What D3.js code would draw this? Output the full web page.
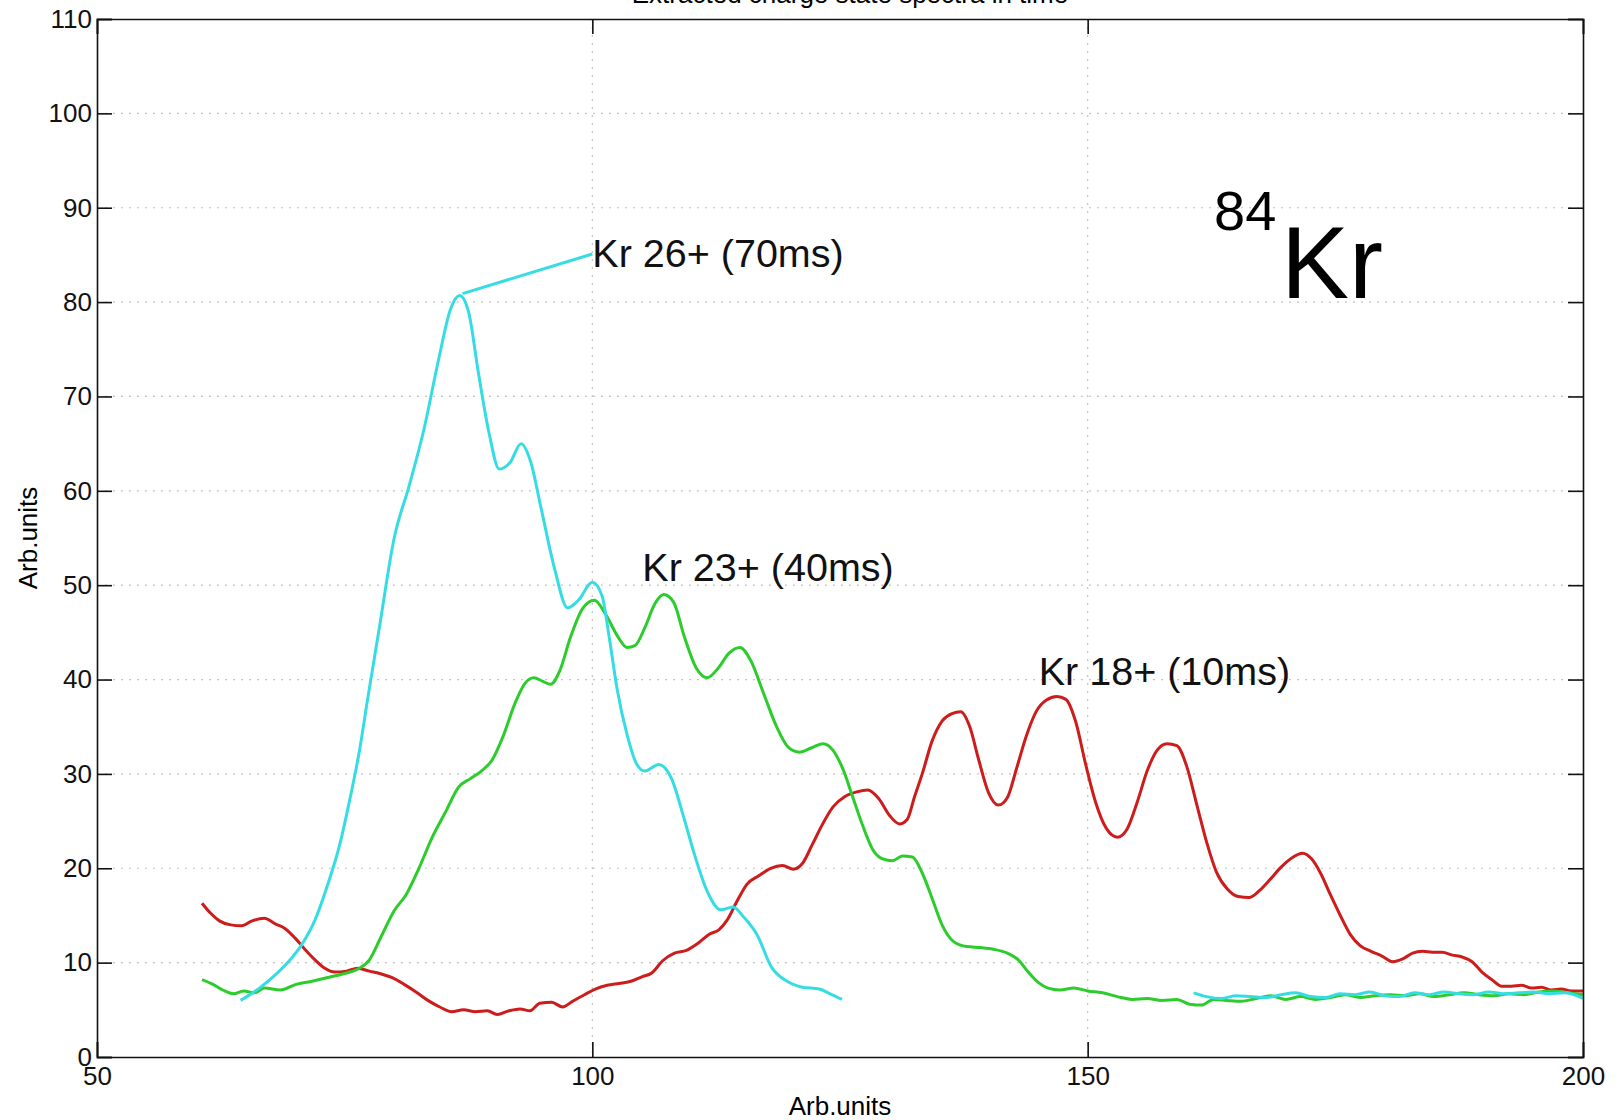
<!DOCTYPE html>
<html>
<head>
<meta charset="utf-8">
<script src="https://cdn.jsdelivr.net/npm/d3@7"></script>
<style>
  body { margin: 0; background: #fff; }
  svg { display: block; font-family: "Liberation Sans", Arial, Helvetica, sans-serif; }
</style>
</head>
<body>
<svg id="chart" width="1623" height="1120"></svg>
<script>

// ticks
let xTicks = [50, 100, 150, 200];
let yTicks = [0, 10, 20, 30, 40, 50, 60, 70, 80, 90, 100, 110];
let xGrid = [100, 150];
let yGrid = [10, 20, 30, 40, 50, 60, 70, 80, 90, 100];

// Kr 26+ (70ms) - cyan, main peak
let kr26 = [[64.5,6.0],[66.4,7.3],[68.0,8.7],[69.5,10.3],[70.6,11.8],[72.0,14.5],[73.3,18.3],[74.5,22.5],
  [75.5,27.2],[76.5,32.5],[77.3,37.8],[78.5,45.5],[80.0,55.0],[81.5,60.5],[83.0,66.5],[84.5,74.0],
  [85.7,79.3],[86.6,80.7],[87.5,79.0],[88.5,72.5],[89.6,66.0],[90.6,62.3],[91.7,63.0],[92.8,65.0],
  [93.8,63.0],[94.8,58.3],[96.2,51.7],[97.5,47.6],[98.6,48.4],[100.0,50.3],[101.0,48.8],[101.7,44.5],
  [102.5,39.0],[103.5,34.2],[104.5,31.0],[105.3,30.3],[106.7,31.0],[108.0,29.5],[109.2,25.5],
  [110.3,21.5],[111.5,17.8],[113.0,15.6],[114.2,15.9],[115.3,14.8],[116.6,13.0],[118.1,9.5],
  [119.7,8.0],[121.2,7.4],[122.9,7.2],[124.0,6.7],[125.2,6.1]];

// Kr 26+ tail (second cyan piece)
let kr26Tail = [[160.7,6.8],[162.0,6.4],[163.5,6.2],[165.0,6.5],[166.5,6.4],[168.0,6.3],[169.5,6.6],
  [171.0,6.8],[172.5,6.4],[174.0,6.3],[175.5,6.7],[177.0,6.6],[178.5,6.9],[180.0,6.5],[181.5,6.4],
  [183.0,6.8],[184.5,6.6],[186.0,6.9],[187.5,6.7],[189.0,6.6],[190.5,6.9],[192.0,6.7],[193.5,6.8],
  [195.0,6.9],[196.5,6.7],[198.2,6.8],[200.0,6.2]];

// Kr 23+ (40ms) - green
let kr23 = [[60.6,8.2],[61.7,7.7],[62.7,7.1],[63.8,6.7],[64.8,7.0],[65.9,6.8],[66.9,7.3],[68.5,7.1],
  [70.1,7.7],[71.6,8.0],[73.2,8.4],[74.8,8.8],[76.3,9.3],[77.5,10.3],[78.7,12.8],[80.0,15.5],
  [81.2,17.2],[82.5,20.0],[83.8,23.2],[85.2,26.0],[86.5,28.6],[87.7,29.5],[88.8,30.3],[89.9,31.5],
  [91.0,34.0],[92.2,37.5],[93.2,39.6],[94.1,40.2],[95.0,39.8],[95.8,39.5],[96.7,40.9],[97.8,44.5],
  [99.0,47.5],[100.2,48.4],[101.3,47.0],[102.6,44.5],[103.5,43.4],[104.3,43.6],[105.3,45.5],
  [106.3,48.0],[107.2,49.0],[108.2,48.2],[109.3,44.5],[110.5,41.2],[111.6,40.2],[112.7,41.2],
  [113.8,42.8],[114.9,43.4],[116.0,42.0],[117.3,38.5],[118.6,35.0],[119.8,32.8],[120.9,32.3],
  [122.2,32.8],[123.3,33.2],[124.3,32.5],[125.3,30.5],[126.3,27.5],[127.3,24.5],[128.3,22.0],
  [129.3,21.0],[130.3,20.8],[131.3,21.3],[132.3,21.2],[133.3,19.5],[134.3,16.8],[135.3,14.0],
  [136.5,12.2],[137.8,11.7],[139.2,11.6],[140.6,11.4],[141.9,11.0],[143.0,10.3],[144.0,9.0],
  [145.0,7.9],[146.0,7.3],[147.2,7.1],[148.6,7.3],[150.0,7.0],[151.5,6.8],[153.0,6.4],[154.5,6.1],
  [156.0,6.2],[157.5,6.0],[159.0,6.1],[160.3,5.6],[161.5,5.5],[162.7,6.1],[164.0,6.0],[165.5,5.9],
  [167.0,6.2],[168.5,6.5],[170.0,6.1],[171.5,6.4],[173.0,6.1],[174.5,6.3],[176.0,6.6],[177.5,6.3],
  [179.0,6.5],[180.5,6.6],[182.0,6.5],[183.5,6.7],[185.0,6.4],[186.5,6.6],[188.0,6.8],[189.5,6.6],
  [191.0,6.5],[192.5,6.7],[194.0,6.6],[195.5,6.9],[197.0,7.0],[198.5,6.8],[200.0,6.6]];

// Kr 18+ (10ms) - red
let kr18 = [[60.6,16.3],[61.5,15.2],[62.4,14.4],[63.5,14.0],[64.6,13.9],[65.6,14.4],[66.9,14.7],
  [68.0,14.1],[69.0,13.6],[70.0,12.6],[71.0,11.4],[72.0,10.3],[73.0,9.4],[74.0,9.0],[75.2,9.1],
  [76.3,9.4],[77.5,9.1],[78.7,8.8],[79.8,8.4],[81.0,7.7],[82.2,6.9],[83.4,6.0],[84.6,5.3],[85.8,4.8],
  [87.0,5.0],[88.2,4.8],[89.4,4.9],[90.4,4.5],[91.6,4.9],[92.7,5.1],[93.7,4.9],[94.7,5.7],[95.9,5.8],
  [97.0,5.3],[98.0,5.9],[99.2,6.6],[100.3,7.2],[101.5,7.6],[102.7,7.8],[103.8,8.0],[105.0,8.5],
  [106.0,8.9],[107.1,10.2],[108.3,11.0],[109.5,11.3],[110.6,12.0],[111.8,13.0],[112.8,13.5],
  [113.6,14.5],[114.6,16.5],[115.6,18.3],[116.8,19.2],[118.0,20.0],[119.2,20.3],[120.3,19.9],
  [121.2,20.5],[122.2,22.5],[123.2,24.6],[124.3,26.5],[125.5,27.6],[126.7,28.1],[127.8,28.3],
  [128.9,27.4],[130.0,25.6],[131.0,24.7],[131.8,25.2],[132.5,27.5],[133.3,30.0],[134.3,33.5],
  [135.3,35.6],[136.3,36.4],[137.2,36.6],[138.1,35.0],[139.0,31.5],[140.0,28.0],[141.0,26.7],
  [141.9,27.5],[142.8,30.5],[143.8,34.0],[144.8,36.6],[145.8,37.8],[146.9,38.2],[147.8,37.9],
  [148.8,35.5],[149.8,31.0],[150.8,27.0],[151.9,24.2],[153.0,23.3],[154.0,24.2],[155.0,27.0],
  [156.0,30.3],[157.0,32.5],[158.0,33.2],[159.0,33.0],[160.0,30.8],[161.0,26.8],[162.0,22.8],
  [163.0,19.6],[164.1,17.8],[165.2,17.0],[166.3,16.9],[167.3,17.6],[168.4,18.8],[169.5,20.1],
  [170.6,21.1],[171.7,21.6],[172.6,21.0],[173.5,19.5],[174.5,17.2],[175.5,15.0],[176.5,13.0],
  [177.5,11.8],[178.6,11.2],[179.7,10.7],[180.8,10.1],[181.8,10.4],[182.8,11.0],[183.8,11.2],
  [184.8,11.1],[185.8,11.1],[186.8,10.8],[187.8,10.6],[188.8,10.1],[189.8,9.0],[190.8,8.2],
  [191.8,7.5],[192.8,7.5],[193.8,7.6],[194.8,7.3],[195.8,7.4],[196.8,7.1],[197.8,7.2],[198.8,7.0],
  [200.0,7.0]];

// labels on the curves (x, baseline y in data units)
let labels = [
  { text: 'Kr 26+ (70ms)', x: 100, y: 83.7 },
  { text: 'Kr 23+ (40ms)', x: 105.05, y: 50.4 },
  { text: 'Kr 18+ (10ms)', x: 145.06, y: 39.4 }
];
let pointer26 = [[86.9, 80.9], [100, 85.1]];

let svg = d3.select('#chart');
let plotL = 97, plotR = 1583, plotT = 19, plotB = 1057;

let x = d3.scaleLinear().domain([50, 200]).range([plotL, plotR]);
let y = d3.scaleLinear().domain([0, 110]).range([plotB, plotT]);

// title (cut off at the top edge, only the bottoms of the letters show)
svg.append('text')
  .attr('x', 850).attr('y', 3)
  .attr('text-anchor', 'middle')
  .style('font-size', '26px')
  .text('Extracted charge state spectra in time');

// dotted grid
let grid = svg.append('g').attr('class', 'grid');
grid.selectAll('.hg').data(yGrid).enter().append('line')
  .attr('x1', plotL).attr('x2', plotR)
  .attr('y1', d => y(d)).attr('y2', d => y(d))
  .attr('stroke', '#c4c4c4').attr('stroke-width', 1.2)
  .attr('stroke-dasharray', '2,6');
grid.selectAll('.vg').data(xGrid).enter().append('line')
  .attr('y1', plotT).attr('y2', plotB)
  .attr('x1', d => x(d)).attr('x2', d => x(d))
  .attr('stroke', '#c4c4c4').attr('stroke-width', 1.2)
  .attr('stroke-dasharray', '2,6');

svg.append('clipPath').attr('id', 'plotclip')
  .append('rect').attr('x', plotL).attr('y', plotT)
  .attr('width', plotR - plotL).attr('height', plotB - plotT);

let line = d3.line()
  .x(d => x(d[0]))
  .y(d => y(d[1]))
  .curve(d3.curveMonotoneX);

let series = [
  { data: kr18, color: '#cc1c1c' },
  { data: kr23, color: '#2ccc2c' },
  { data: kr26Tail, color: '#35dde3' },
  { data: kr26, color: '#35dde3' }
];

let plot = svg.append('g').attr('clip-path', 'url(#plotclip)');
plot.selectAll('path.curve').data(series).enter().append('path')
  .attr('class', 'curve')
  .attr('d', d => line(d.data))
  .attr('fill', 'none')
  .attr('stroke', d => d.color)
  .attr('stroke-width', 3)
  .attr('stroke-linejoin', 'round');

// annotation pointer for 26+
svg.append('path')
  .attr('d', d3.line().x(d => x(d[0])).y(d => y(d[1]))(pointer26))
  .attr('stroke', '#35dde3').attr('stroke-width', 3).attr('fill', 'none');

// inward ticks on all four sides
let tl = 15;
svg.append('g').attr('transform', `translate(${plotL},0)`)
  .call(d3.axisLeft(y).tickValues(yTicks).tickSize(-tl).tickFormat(''));
svg.append('g').attr('transform', `translate(${plotR},0)`)
  .call(d3.axisRight(y).tickValues(yTicks).tickSize(-tl).tickFormat(''));
svg.append('g').attr('transform', `translate(0,${plotB})`)
  .call(d3.axisBottom(x).tickValues(xTicks).tickSize(-tl).tickFormat(''));
svg.append('g').attr('transform', `translate(0,${plotT})`)
  .call(d3.axisTop(x).tickValues(xTicks).tickSize(-tl).tickFormat(''));
svg.selectAll('.domain, .tick line').attr('stroke', '#111').attr('stroke-width', 1.6);

// tick labels
let yAxis = svg.append('g').attr('transform', `translate(${plotL},0)`)
  .call(d3.axisLeft(y).tickValues(yTicks).tickSize(0).tickPadding(5));
let xAxis = svg.append('g').attr('transform', `translate(0,${plotB})`)
  .call(d3.axisBottom(x).tickValues(xTicks).tickSize(0).tickPadding(10));
[yAxis, xAxis].forEach(a => {
  a.select('.domain').remove();
  a.selectAll('text')
    .style('font-size', '26px')
    .style('font-family', '"Liberation Sans", Arial, Helvetica, sans-serif')
    .attr('fill', '#111');
});

// axis titles
svg.append('text')
  .attr('x', (plotL + plotR) / 2).attr('y', 1115)
  .attr('text-anchor', 'middle')
  .style('font-size', '26px')
  .text('Arb.units');
svg.append('text')
  .attr('transform', `translate(37,${(plotT + plotB) / 2}) rotate(-90)`)
  .attr('text-anchor', 'middle')
  .style('font-size', '26px')
  .text('Arb.units');

// curve labels
svg.selectAll('.lbl').data(labels).enter().append('text')
  .attr('class', 'lbl')
  .attr('x', d => x(d.x)).attr('y', d => y(d.y))
  .style('font-size', '39.5px')
  .attr('fill', '#111')
  .text(d => d.text);

// isotope mark
svg.append('text').attr('x', 1214).attr('y', 230)
  .style('font-size', '56px').attr('fill', '#000').text('84');
svg.append('text').attr('x', 1281).attr('y', 298)
  .style('font-size', '102px').attr('fill', '#000').text('Kr');

</script>
</body>
</html>
